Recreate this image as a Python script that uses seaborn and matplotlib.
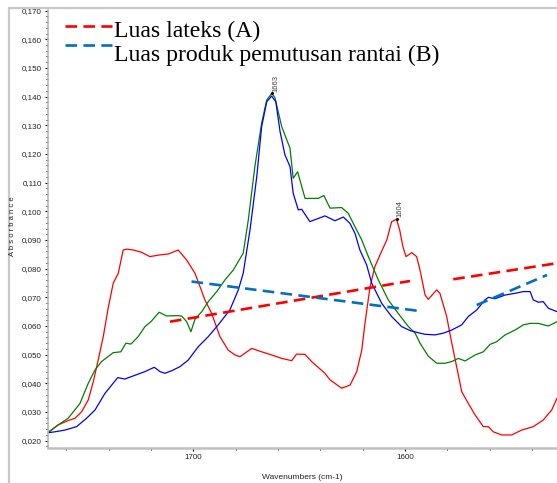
import numpy as np
import pandas as pd
import seaborn as sns
import matplotlib
matplotlib.use("Agg")
import matplotlib.pyplot as plt
from matplotlib.lines import Line2D
from matplotlib.ticker import MultipleLocator, FuncFormatter, FixedLocator

# ---------------- data ----------------
red_wn = [1768.5, 1763.8, 1759.1, 1755.9, 1752.7, 1749.6, 1747.2, 1744.9, 1742.5, 1740.2,
          1737.8, 1735.4, 1733.1, 1731.5, 1728.3, 1724.4, 1720.5, 1715.7, 1711.8, 1707.1,
          1703.1, 1699.2, 1696.8, 1694.5, 1691.3, 1687.4, 1683.5, 1680.3, 1677.9, 1675.6,
          1672.4, 1667.7, 1663.0, 1658.2, 1653.5, 1651.2, 1647.2, 1644.1, 1637.8, 1635.4,
          1629.9, 1625.9, 1622.8, 1620.4, 1618.9, 1616.5, 1614.2, 1611.8, 1608.6, 1606.3,
          1604.0, 1602.5, 1601.0, 1599.5, 1596.8, 1594.5, 1592.9, 1590.5, 1589.0, 1585.0,
          1583.5, 1580.3, 1577.9, 1575.6, 1573.2, 1570.1, 1566.9, 1563.0, 1560.6, 1558.3,
          1554.3, 1549.6, 1544.9, 1539.4, 1534.7, 1530.7, 1528.2]
red_abs = [0.0229, 0.0255, 0.0270, 0.0278, 0.0301, 0.0342, 0.0406, 0.0481, 0.0563, 0.0662,
           0.0749, 0.0784, 0.0865, 0.0868, 0.0865, 0.0857, 0.0842, 0.0848, 0.0851, 0.0865,
           0.0830, 0.0784, 0.0737, 0.0691, 0.0644, 0.0563, 0.0516, 0.0499, 0.0493, 0.0505,
           0.0522, 0.0510, 0.0499, 0.0487, 0.0479, 0.0502, 0.0501, 0.0476, 0.0435, 0.0412,
           0.0383, 0.0394, 0.0441, 0.0516, 0.0609, 0.0737, 0.0807, 0.0848, 0.0900, 0.0964,
           0.0972, 0.0935, 0.0877, 0.0842, 0.0856, 0.0842, 0.0795, 0.0708, 0.0693, 0.0726,
           0.0714, 0.0633, 0.0540, 0.0458, 0.0371, 0.0330, 0.0290, 0.0249, 0.0249, 0.0231,
           0.0220, 0.0220, 0.0237, 0.0249, 0.0272, 0.0307, 0.0348]

green_wn = [1768.5, 1763.8, 1759.1, 1753.5, 1749.6, 1746.4, 1743.3, 1737.8, 1734.2, 1731.8,
            1729.4, 1726.0, 1722.8, 1720.0, 1716.1, 1712.6, 1707.8, 1705.5, 1703.1, 1701.1,
            1699.2, 1696.0, 1692.9, 1688.9, 1685.0, 1681.1, 1676.4, 1674.0, 1670.9, 1667.7,
            1665.3, 1663.0, 1661.5, 1658.2, 1654.3, 1652.8, 1650.7, 1647.2, 1641.0, 1638.3,
            1635.4, 1629.9, 1626.8, 1623.6, 1620.4, 1617.3, 1612.6, 1607.9, 1603.2, 1598.4,
            1595.2, 1592.9, 1589.0, 1585.0, 1581.1, 1577.9, 1574.8, 1571.6, 1566.9, 1563.0,
            1559.8, 1556.7, 1552.7, 1548.0, 1544.1, 1540.9, 1537.0, 1532.3, 1528.2]
green_abs = [0.0229, 0.0255, 0.0278, 0.0330, 0.0400, 0.0447, 0.0476, 0.0507, 0.0510, 0.0540,
             0.0537, 0.0563, 0.0598, 0.0615, 0.0648, 0.0635, 0.0636, 0.0635, 0.0615, 0.0580,
             0.0623, 0.0650, 0.0685, 0.0720, 0.0761, 0.0795, 0.0854, 0.0970, 0.1156, 0.1307,
             0.1388, 0.1411, 0.1398, 0.1295, 0.1220, 0.1115, 0.1138, 0.1045, 0.1045, 0.1055,
             0.1011, 0.1013, 0.0993, 0.0946, 0.0900, 0.0842, 0.0761, 0.0691, 0.0644, 0.0598,
             0.0575, 0.0540, 0.0495, 0.0470, 0.0470, 0.0476, 0.0487, 0.0478, 0.0499, 0.0510,
             0.0536, 0.0545, 0.0569, 0.0586, 0.0604, 0.0609, 0.0609, 0.0600, 0.0615]

blue_wn = [1768.5, 1765.3, 1760.6, 1755.1, 1750.4, 1746.4, 1741.7, 1738.5, 1735.7, 1732.3,
           1728.3, 1722.8, 1718.4, 1715.7, 1713.4, 1710.2, 1706.3, 1702.4, 1697.6, 1692.9,
           1688.2, 1682.7, 1678.7, 1676.4, 1673.2, 1670.0, 1667.7, 1665.3, 1663.0, 1661.0,
           1659.0, 1656.7, 1654.3, 1652.8, 1650.4, 1648.8, 1644.9, 1637.8, 1633.1, 1629.1,
           1626.0, 1623.6, 1621.3, 1618.1, 1615.7, 1611.0, 1606.3, 1601.6, 1597.6, 1592.9,
           1590.5, 1585.8, 1581.9, 1577.9, 1573.2, 1570.1, 1566.1, 1562.2, 1560.6, 1557.5,
           1552.7, 1548.0, 1544.1, 1540.9, 1539.4, 1537.0, 1534.7, 1532.3, 1528.2]
blue_abs = [0.0228, 0.0231, 0.0237, 0.0249, 0.0278, 0.0307, 0.0365, 0.0394, 0.0420, 0.0415,
            0.0426, 0.0441, 0.0456, 0.0441, 0.0435, 0.0444, 0.0458, 0.0481, 0.0528, 0.0563,
            0.0604, 0.0656, 0.0726, 0.0784, 0.0935, 0.1121, 0.1295, 0.1382, 0.1402, 0.1382,
            0.1278, 0.1197, 0.1156, 0.1063, 0.1005, 0.1007, 0.0964, 0.0984, 0.0967, 0.0980,
            0.0958, 0.0923, 0.0865, 0.0813, 0.0749, 0.0679, 0.0633, 0.0598, 0.0584, 0.0575,
            0.0571, 0.0569, 0.0575, 0.0586, 0.0604, 0.0633, 0.0656, 0.0691, 0.0700, 0.0695,
            0.0708, 0.0714, 0.0720, 0.0720, 0.0691, 0.0683, 0.0685, 0.0662, 0.0650]

# dashed baseline annotations: (start, end) of each segment
latex_seg1_wn = [1711.0, 1597.6]
latex_seg1_abs = [0.0615, 0.0757]
latex_seg2_wn = [1577.2, 1528.2]
latex_seg2_abs = [0.0763, 0.0819]
prod_seg1_wn = [1700.8, 1592.9]
prod_seg1_abs = [0.0755, 0.0652]
prod_seg2_wn = [1566.1, 1532.9]
prod_seg2_abs = [0.0673, 0.0778]

legend_labels = ["Luas lateks (A)", "Luas produk pemutusan rantai (B)"]
peak_labels = [("1663", 1663.0, 0.1411), ("1604", 1604.0, 0.0972)]
x_major = [1700, 1600]

# ---------------- styling ----------------
sns.set_style("white")
plt.rcParams['font.family'] = ['Liberation Sans', 'DejaVu Sans']

W, H = 557, 483
fig = plt.figure(figsize=(W / 100, H / 100), dpi=100)
ax = fig.add_axes([48 / W, 1 - 448 / H, (W - 48) / W, (448 - 8) / H])

RED = "#FF0000"
GREEN = "#008000"
BLUE = "#0000FF"
DRED = "#FF0000"
DBLUE = "#0070C0"

for wn, ab, col in [(red_wn, red_abs, RED), (green_wn, green_abs, GREEN), (blue_wn, blue_abs, BLUE)]:
    df = pd.DataFrame({"wn": wn, "abs": ab})
    sns.lineplot(data=df, x="wn", y="abs", ax=ax, color=col, linewidth=0.9,
                 sort=False, estimator=None)

dash = (0, (4.4, 2.4))
for wn, ab, col in [(latex_seg1_wn, latex_seg1_abs, DRED), (latex_seg2_wn, latex_seg2_abs, DRED),
                    (prod_seg1_wn, prod_seg1_abs, DBLUE), (prod_seg2_wn, prod_seg2_abs, DBLUE)]:
    df = pd.DataFrame({"wn": wn, "abs": ab})
    sns.lineplot(data=df, x="wn", y="abs", ax=ax, color=col, linewidth=1.9,
                 linestyle=dash, sort=False, estimator=None)

# peak labels
offs = {"1663": (3.5, 1.0), "1604": (2.5, 1.5)}
for txt, wx, wy in peak_labels:
    ax.plot([wx], [wy], marker='o', ms=1.2, color='black')
    ax.annotate(txt, xy=(wx, wy), xytext=offs[txt], textcoords='offset points',
                rotation=90, ha='center', va='bottom', fontsize=5.5, color='#404040')

ax.set_xlim(1768.6, 1528.2)
ax.set_ylim(0.01745, 0.1709)

ax.xaxis.set_major_locator(FixedLocator(x_major))
ax.xaxis.set_minor_locator(MultipleLocator(20))
ax.yaxis.set_major_locator(MultipleLocator(0.01))
ax.yaxis.set_minor_locator(MultipleLocator(0.002))
ax.yaxis.set_major_formatter(FuncFormatter(lambda v, p: f"{v:.3f}".replace('.', ',')))
ax.xaxis.set_major_formatter(FuncFormatter(lambda v, p: f"{v:.0f}"))

ax.tick_params(axis='both', which='major', labelsize=5.8, length=2.5, width=0.8,
               color='black', labelcolor='#222222', pad=2, bottom=True, left=True)
ax.tick_params(axis='both', which='minor', length=1.5, width=0.7, color='black',
               bottom=True, left=True)

for s in ['top', 'right']:
    ax.spines[s].set_visible(False)
ax.spines['left'].set_color('#b8b8b8')
ax.spines['left'].set_linewidth(1.2)
ax.spines['bottom'].set_color('#c0c0c0')
ax.spines['bottom'].set_linewidth(1.8)

ax.set_xlabel("Wavenumbers (cm-1)", fontsize=6, color='#222222', labelpad=9)
ax.set_ylabel("")
fig.text(13 / W, 1 - 226 / H, "A b s o r b a n c e", rotation=90, ha='center', va='center',
         fontsize=5.5, color='#222222')

# outer gray frame
fig.add_artist(Line2D([8.5 / W, 8.5 / W], [0, 1 - 7.5 / H], transform=fig.transFigure,
                      color='#c8c8c8', lw=1.6))
fig.add_artist(Line2D([8.5 / W, 1], [1 - 7.5 / H, 1 - 7.5 / H], transform=fig.transFigure,
                      color='#c8c8c8', lw=1.6))

# legend (handles and labels placed like the reference)
leg_cols = [DRED, DBLUE]
handle_y = [26, 45]
text_base = [37, 61]
for lab, col, hy, ty in zip(legend_labels, leg_cols, handle_y, text_base):
    fig.add_artist(Line2D([65 / W, 112 / W], [1 - hy / H, 1 - hy / H], transform=fig.transFigure,
                          color=col, lw=1.9, linestyle=dash))
    fig.text(114 / W, 1 - ty / H, lab, ha='left', va='baseline',
             fontfamily='Liberation Serif', fontsize=17.1, color='black')

fig.savefig("out.png", dpi=100)
